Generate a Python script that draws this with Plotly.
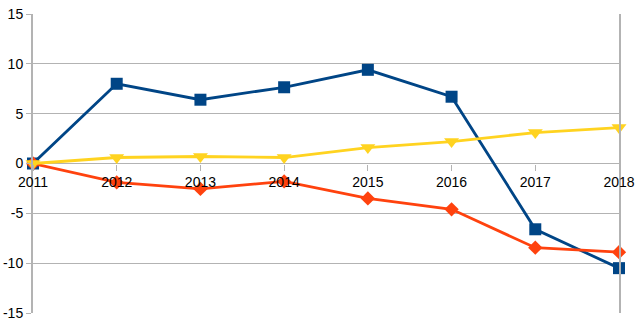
import plotly.graph_objects as go

years = ["2011", "2012", "2013", "2014", "2015", "2016", "2017", "2018"]
blue_vals = [0, 8.0, 6.4, 7.65, 9.4, 6.7, -6.6, -10.5]
orange_vals = [0, -1.9, -2.55, -1.8, -3.5, -4.6, -8.45, -8.9]
yellow_vals = [0, 0.6, 0.7, 0.6, 1.6, 2.2, 3.1, 3.6]
y_ticks = [-15, -10, -5, 0, 5, 10, 15]
y_tick_labels = ["-15", "-10", "-5", "0", "5", "10", "15"]

fig = go.Figure()
fig.add_trace(go.Scatter(x=years, y=blue_vals, mode="lines+markers",
                         line=dict(color="#004586", width=2.8),
                         marker=dict(symbol="square", size=12, color="#004586"),
                         cliponaxis=False))
fig.add_trace(go.Scatter(x=years, y=orange_vals, mode="lines+markers",
                         line=dict(color="#ff420e", width=2.8),
                         marker=dict(symbol="diamond", size=11, color="#ff420e"),
                         cliponaxis=False))
fig.add_trace(go.Scatter(x=years, y=yellow_vals, mode="lines+markers",
                         line=dict(color="#ffd320", width=2.8),
                         marker=dict(symbol="triangle-down", size=13, color="#ffd320"),
                         cliponaxis=False))

fig.update_layout(
    width=644, height=332,
    margin=dict(l=33, r=25, t=14, b=19),
    paper_bgcolor="white", plot_bgcolor="white",
    showlegend=False,
    font=dict(family="Liberation Sans, Arial, sans-serif", size=14, color="black"),
    xaxis=dict(type="category", range=[0, 7], anchor="free", position=0.5,
               showgrid=False, showline=False, zeroline=False, automargin=False,
               ticks="outside", ticklen=6, tickcolor="#b3b3b3", tickwidth=1,
               tickfont=dict(size=14), ticklabelstandoff=0),
    yaxis=dict(range=[-15, 15], tickvals=y_ticks, ticktext=y_tick_labels,
               showgrid=True, gridcolor="#b3b3b3",
               gridwidth=1, zeroline=False, showline=True, linecolor="#b3b3b3",
               linewidth=2, mirror=True, ticks="outside", ticklen=5, automargin=False,
               tickcolor="#b3b3b3", tickfont=dict(size=14), ticklabelstandoff=0),
)

fig.write_html("out.html")
